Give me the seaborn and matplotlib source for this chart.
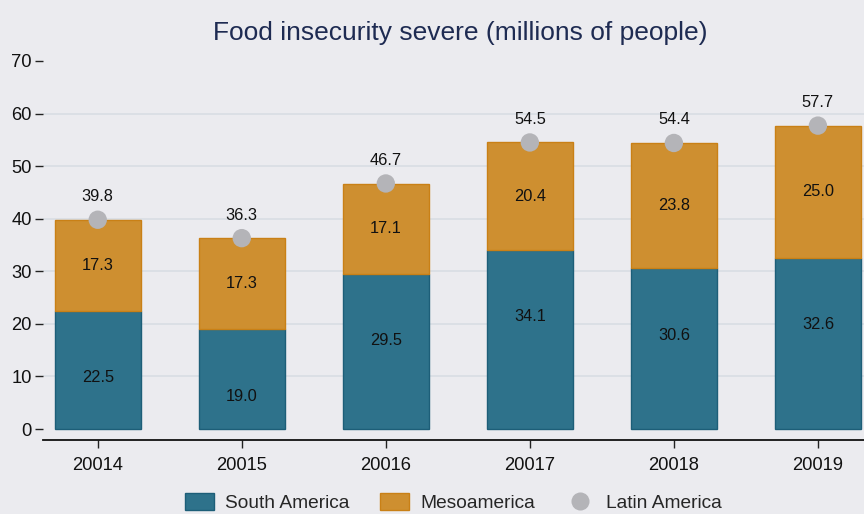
import matplotlib
matplotlib.use("Agg")
import matplotlib.pyplot as plt
from matplotlib.patches import Patch
from matplotlib.lines import Line2D
import seaborn as sns
import pandas as pd

years = ["20014", "20015", "20016", "20017", "20018", "20019"]
south_america = [22.5, 19.0, 29.5, 34.1, 30.6, 32.6]
mesoamerica = [17.3, 17.3, 17.1, 20.4, 23.8, 25.0]
latin_america = [39.8, 36.3, 46.7, 54.5, 54.4, 57.7]

BG = "#ebebef"
TEAL = "#2e728b"
TEAL_EDGE = "#1d5e78"
ORANGE = "#ce8f30"
ORANGE_EDGE = "#c98016"
GRAY = "#b4b4b8"

sns.set_theme(style="white")
plt.rcParams["font.family"] = ["Liberation Sans", "DejaVu Sans"]

df = pd.DataFrame({
    "year": years,
    "south": south_america,
    "meso": mesoamerica,
    "total": latin_america,
})

fig = plt.figure(figsize=(8.64, 5.14), dpi=100, facecolor=BG)
ax = fig.add_axes([43 / 864, 74 / 514, 821 / 864, 384.3 / 514])
ax.set_facecolor(BG)

for y in range(10, 70, 10):
    ax.axhline(y, color="#d7dce2", lw=1.1, zorder=0)

sns.barplot(data=df, x="year", y="south", color=TEAL, width=0.6,
            edgecolor=TEAL_EDGE, linewidth=1, saturation=1, ax=ax, zorder=2)
sns.barplot(data=df, x="year", y="meso", color=ORANGE, width=0.6,
            bottom=df["south"], edgecolor=ORANGE_EDGE, linewidth=1,
            saturation=1, ax=ax, zorder=2)
sns.scatterplot(data=df, x="year", y="total", color=GRAY, s=175,
                edgecolor="none", ax=ax, zorder=4)

for i, (s, m, t) in enumerate(zip(south_america, mesoamerica, latin_america)):
    ax.annotate(f"{s:.1f}", (i, s), xytext=(0, -67), textcoords="offset pixels",
                ha="center", va="center", fontsize=11.8, color="#111111", zorder=5)
    ax.text(i, s + m / 2, f"{m:.1f}", ha="center", va="center",
            fontsize=11.8, color="#111111", zorder=5)
    ax.annotate(f"{t:.1f}", (i, t), xytext=(0, 23), textcoords="offset pixels",
                ha="center", va="center", fontsize=11.8, color="#111111", zorder=5)

ax.set_xlim(-0.38, 5.32)
ax.set_ylim(-2.09, 71)
ax.set_yticks(range(0, 80, 10))
ax.set_xlabel("")
ax.set_ylabel("")

for side in ["left", "right", "top"]:
    ax.spines[side].set_visible(False)
ax.spines["bottom"].set_color("#111111")
ax.spines["bottom"].set_linewidth(1.3)

ax.tick_params(axis="y", left=True, length=6, width=1, color="#222222",
               labelsize=13.2, labelcolor="#111111", pad=2)
ax.tick_params(axis="x", bottom=True, length=6, width=1, color="#222222",
               labelsize=13.2, labelcolor="#111111", pad=6)

fig.suptitle("Food insecurity severe (millions of people)", x=0.533, y=0.96,
             fontsize=19, color="#1e2b52")

handles = [
    Patch(facecolor=TEAL, edgecolor=TEAL_EDGE, label="South America"),
    Patch(facecolor=ORANGE, edgecolor=ORANGE_EDGE, label="Mesoamerica"),
    Line2D([], [], marker="o", ls="none", markersize=13, markerfacecolor=GRAY,
           markeredgecolor="none", label="Latin America"),
]
fig.legend(handles=handles, loc="center", bbox_to_anchor=(0.525, 0.022), ncol=3,
           frameon=False, fontsize=13.8, handlelength=1.5, handleheight=1.0,
           columnspacing=1.6, handletextpad=0.6)

fig.savefig("out.png", dpi=100, facecolor=BG)
